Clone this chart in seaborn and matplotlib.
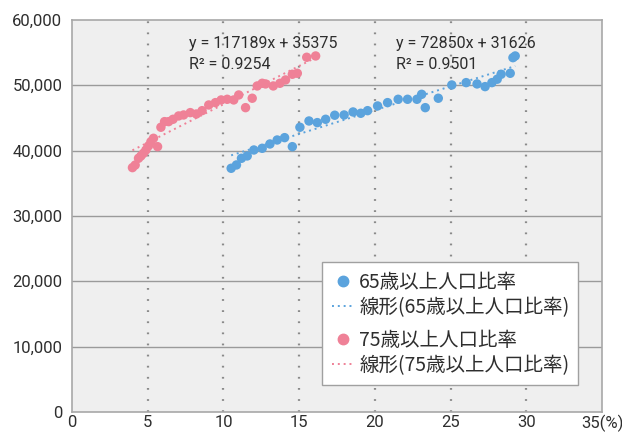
import numpy as np
import pandas as pd
import matplotlib
matplotlib.use("Agg")
import matplotlib.pyplot as plt
from matplotlib.lines import Line2D
from matplotlib.legend import Legend
from matplotlib.patches import Rectangle
import seaborn as sns

# Share of population aged 65+ (%) and value on the y axis
rate65 = [10.51, 10.86, 11.19, 11.57, 12.01, 12.56, 13.07, 13.55, 14.04, 14.55,
          15.05, 15.65, 16.20, 16.75, 17.35, 17.97, 18.56, 19.07, 19.52, 20.18,
          20.84, 21.54, 22.16, 22.78, 23.09, 23.33, 24.19, 25.08, 26.03, 26.75,
          27.28, 27.73, 28.08, 28.34, 28.94, 29.12, 29.27]
value65 = [37300, 37810, 38830, 39190, 40100, 40360, 41020, 41630, 41990, 40610,
           43580, 44540, 44290, 44800, 45420, 45460, 45920, 45720, 46120, 46840,
           47350, 47860, 47860, 47860, 48620, 46580, 48020, 50050, 50410, 50210,
           49800, 50410, 50930, 51690, 51840, 54230, 54490]

# Share of population aged 75+ (%) and value on the y axis
rate75 = [3.99, 4.17, 4.39, 4.55, 4.72, 4.88, 5.05, 5.21, 5.38, 5.65,
          5.87, 6.11, 6.38, 6.67, 7.04, 7.37, 7.81, 8.21, 8.59, 9.03,
          9.47, 9.85, 10.25, 10.68, 11.01, 11.46, 11.90, 12.23, 12.56, 12.78,
          13.29, 13.73, 14.10, 14.55, 14.88, 15.50, 16.09]
value75 = [37400, 37790, 38830, 39190, 39600, 40100, 40720, 41370, 41890, 40610,
           43580, 44440, 44440, 44800, 45310, 45460, 45820, 45610, 46120, 46990,
           47350, 47760, 47860, 47760, 48520, 46580, 48020, 49900, 50310, 50210,
           49900, 50310, 50820, 51690, 51840, 54290, 54490]

# Linear trendlines (x as a fraction, not percent)
slope65, intercept65, r2_65 = 72850, 31626, 0.9501
slope75, intercept75, r2_75 = 117189, 35375, 0.9254

label65 = "65歳以上人口比率"
label75 = "75歳以上人口比率"
x_ticks = [0, 5, 10, 15, 20, 25, 30, 35]
x_tick_labels = ["0", "5", "10", "15", "20", "25", "30", "35(%)"]
y_ticks = [0, 10000, 20000, 30000, 40000, 50000, 60000]

blue = "#5ba3dd"
pink = "#ef8197"
text_color = "#2e2e2e"

sns.set_theme(style="white")
plt.rcParams["font.family"] = ["Roboto", "Noto Sans CJK JP", "DejaVu Sans"]

df = pd.concat([
    pd.DataFrame({"rate": rate65, "value": value65, "group": label65}),
    pd.DataFrame({"rate": rate75, "value": value75, "group": label75}),
], ignore_index=True)

fig = plt.figure(figsize=(6.22, 4.34), dpi=100)
ax = fig.add_axes([0.1158, 0.0507, 0.852, 0.9033])
ax.set_facecolor("#efefef")

# grid: solid horizontal, dotted vertical
for yv in y_ticks[1:-1]:
    ax.axhline(yv, color="#9a9a9a", lw=1.0, zorder=1)
for xv in x_ticks[1:-1]:
    ax.axvline(xv, color="#8a8a8a", lw=1.6, ls=(0, (0.8, 4.2)), zorder=1)

sns.scatterplot(data=df, x="rate", y="value", hue="group",
                palette={label65: blue, label75: pink},
                s=46, edgecolor="none", legend=False, ax=ax, zorder=3)

def trend(rates, slope, intercept, color):
    xs = np.array([min(rates), max(rates)])
    ys = slope * xs / 100 + intercept
    ax.plot(xs, ys, color=color, lw=1.4, ls=(0, (1, 2)), zorder=2)

trend(rate65, slope65, intercept65, blue)
trend(rate75, slope75, intercept75, pink)

# trendline equations
eq_size = 11.5
ax.text(7.75, 55650, f"y = {slope75}x + {intercept75}", fontsize=eq_size,
        color=text_color, va="baseline", zorder=4)
ax.text(7.75, 52550, f"R² = {r2_75}", fontsize=eq_size,
        color=text_color, va="baseline", zorder=4)
ax.text(21.4, 55650, f"y = {slope65}x + {intercept65}", fontsize=eq_size,
        color=text_color, va="baseline", zorder=4)
ax.text(21.4, 52550, f"R² = {r2_65}", fontsize=eq_size,
        color=text_color, va="baseline", zorder=4)

ax.set_xlim(0, 35)
ax.set_ylim(0, 60000)
ax.set_xticks(x_ticks)
ax.set_xticklabels(x_tick_labels)
ax.set_yticks(y_ticks)
ax.set_yticklabels([f"{v:,}" for v in y_ticks])
ax.tick_params(axis="both", length=0, labelsize=12, colors=text_color)
ax.tick_params(axis="y", pad=7)
ax.tick_params(axis="x", pad=2)
ax.set_xlabel("")
ax.set_ylabel("")
for sp in ax.spines.values():
    sp.set_color("#a8a8a8")
    sp.set_linewidth(1.2)

# legend: one frame holding two groups of entries
ax.add_patch(Rectangle((0.4717, 0.0689), 0.483, 0.3138, transform=ax.transAxes,
                       facecolor="white", edgecolor="#a0a0a0", lw=1.0,
                       zorder=5))

leg_prop = {"family": ["Noto Sans CJK JP", "DejaVu Sans"], "size": 14}

def legend_group(color, label, y_center):
    handles = [
        Line2D([], [], marker="o", ls="none", color=color, markersize=7.5),
        Line2D([], [], color=color, lw=1.4, ls=(0, (1, 2))),
    ]
    labels = [label, f"線形({label})"]
    leg = Legend(ax, handles, labels, loc="center left",
                 bbox_to_anchor=(0.4905, y_center), borderaxespad=0,
                 frameon=False, prop=leg_prop, borderpad=0,
                 handlelength=1.1, handletextpad=0.3, labelspacing=0.2)
    for t in leg.get_texts():
        t.set_color(text_color)
    leg.set_zorder(6)
    ax.add_artist(leg)

legend_group(blue, label65, 0.2985)
legend_group(pink, label75, 0.1505)

fig.savefig("out.png", dpi=100)
